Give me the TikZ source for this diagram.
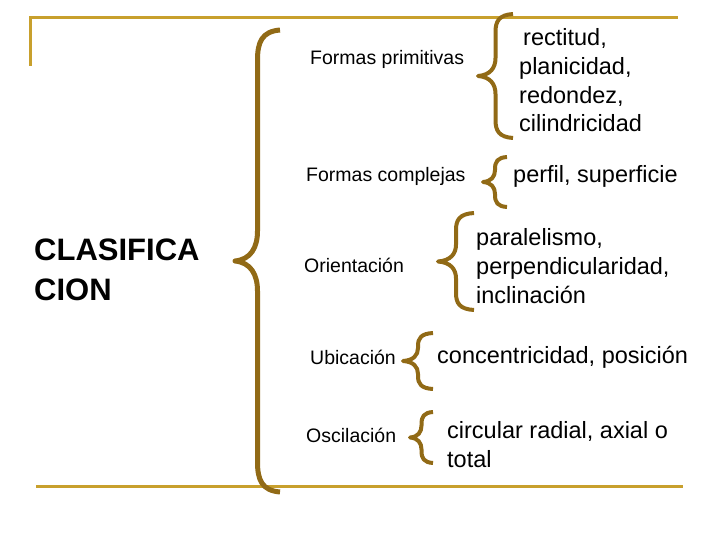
\documentclass[tikz,border=0pt]{standalone}
\usepackage{fontspec}
\setmainfont{Liberation Sans}
\usepackage{tikz}

\definecolor{dorado}{RGB}{200,160,45}
\definecolor{marron}{RGB}{145,106,22}

% llave: [grosor]{x extremo}{y arriba}{y abajo}{amplitud}{radio}
\newcommand{\llave}[6][4]{%
  \pgfmathsetmacro{\llvbra}{#2-#5/2}%
  \pgfmathsetmacro{\llvpun}{#2-#5}%
  \pgfmathsetmacro{\llvmed}{(#3+#4)/2}%
  \draw[marron, line width=#1pt, line join=round]
    (#2,#3) .. controls (\llvbra+0.1*#5,#3+0.05*#6) and (\llvbra,#3+0.4*#6) .. (\llvbra,#3+#6)
    -- (\llvbra,\llvmed-#6) .. controls (\llvbra,\llvmed-0.45*#6) and (\llvpun+0.35*#5,\llvmed-0.05*#6) .. (\llvpun,\llvmed)
    .. controls (\llvpun+0.35*#5,\llvmed+0.05*#6) and (\llvbra,\llvmed+0.45*#6) .. (\llvbra,\llvmed+#6)
    -- (\llvbra,#4-#6) .. controls (\llvbra,#4-0.4*#6) and (\llvbra+0.1*#5,#4-0.05*#6) .. (#2,#4);
}

\begin{document}
\begin{tikzpicture}[x=1pt, y=-1pt,
  categ/.style={anchor=base west, inner sep=0pt, font=\fontsize{19.5}{23}\selectfont},
  valor/.style={anchor=base west, inner sep=0pt, align=left, font=\fontsize{23.5}{28.7}\selectfont}]
  \useasboundingbox (0,0) rectangle (720,540);

  % Marco
  \draw[dorado, line width=3pt] (30,66) -- (30,18) -- (678,18);
  \draw[dorado, line width=3pt] (36,486) -- (683,486);

  % Titulo (base = ultima linea)
  \node[anchor=base west, inner sep=0pt, align=left, font=\fontsize{31}{40}\selectfont\bfseries] (clasif) at (34,300) {CLASIFICA\\CION};

  % Categorias
  \node[categ] (primit) at (310,65) {Formas primitivas};
  \node[categ] (complej) at (306,182) {Formas complejas};
  \node[categ] (orient) at (304,272) {Orientación};
  \node[categ] (ubic) at (310,364) {Ubicación};
  \node[categ] (oscil) at (306,442) {Oscilación};

  % Valores
  \node[valor] (vprimit) at (519,132) {\hspace*{4pt}rectitud,\\planicidad,\\redondez,\\cilindricidad};
  \node[valor] (vcomplej) at (513,183) {perfil, superficie};
  \node[valor] (vorient) at (476,303) {paralelismo,\\perpendicularidad,\\inclinación};
  \node[valor] (vubic) at (437,363) {concentricidad, posición};
  \node[valor] (voscil) at (447,467) {circular radial, axial o\\total};

  % Llaves
  \llave[5]{280}{30}{492}{45}{30}
  \llave{513}{14}{138}{35}{18}
  \llave{507}{157}{207}{24}{12}
  \llave{474}{213}{310}{36}{17}
  \llave{433}{333}{389}{30}{13}
  \llave{433}{412}{463}{23}{12}
\end{tikzpicture}
\end{document}
